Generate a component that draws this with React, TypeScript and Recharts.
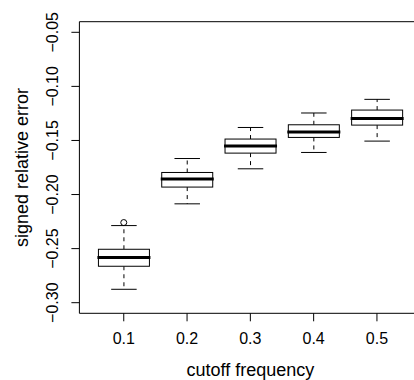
import React from "react";
import {
  ComposedChart,
  Bar,
  Scatter,
  XAxis,
  YAxis,
  Label,
} from "recharts";

const categories = ["0.1", "0.2", "0.3", "0.4", "0.5"];
const lowerWhisker = [-0.2876, -0.2086, -0.1762, -0.1611, -0.1506];
const q1 = [-0.2663, -0.1931, -0.1617, -0.1472, -0.1358];
const median = [-0.2583, -0.1857, -0.1552, -0.1422, -0.1296];
const q3 = [-0.2506, -0.1796, -0.1487, -0.1355, -0.1219];
const upperWhisker = [-0.2287, -0.1667, -0.138, -0.1246, -0.112];
const outliers: (number | null)[] = [-0.2259, null, null, null, null];

const yTicks = [-0.3, -0.25, -0.2, -0.15, -0.1, -0.05];
const yDomain = [-0.3098, -0.0402];

const data = categories.map((cat, i) => ({
  cat,
  lo: lowerWhisker[i],
  q1: q1[i],
  med: median[i],
  q3: q3[i],
  hi: upperWhisker[i],
  range: [lowerWhisker[i], upperWhisker[i]],
  outlier: outliers[i],
}));

const FONT = "'Liberation Sans', Arial, Helvetica, sans-serif";

// box drawn inside the whisker range bar, positions interpolated on the bar's scaled span
const BoxShape = (props: any) => {
  const { x, y, width, height, payload } = props;
  const top = Math.min(y, y + height);
  const bot = Math.max(y, y + height);
  const { lo, hi } = payload;
  const py = (v: number) => top + ((hi - v) / (hi - lo)) * (bot - top);
  const cx = x + width / 2;
  const cap = width / 4;
  const yq1 = py(payload.q1);
  const yq3 = py(payload.q3);
  const ymed = py(payload.med);
  return (
    <g stroke="#000" fill="none">
      <line x1={cx} x2={cx} y1={yq3} y2={top} strokeDasharray="4 4" />
      <line x1={cx} x2={cx} y1={yq1} y2={bot} strokeDasharray="4 4" />
      <line x1={cx - cap} x2={cx + cap} y1={top} y2={top} />
      <line x1={cx - cap} x2={cx + cap} y1={bot} y2={bot} />
      <rect x={x} y={yq3} width={width} height={yq1 - yq3} fill="#fff" />
      <line x1={x - 1} x2={x + width + 1} y1={ymed} y2={ymed} strokeWidth={3} />
    </g>
  );
};

const OutlierShape = (props: any) => {
  if (props.payload == null || props.payload.outlier == null) return null;
  return <circle cx={props.cx} cy={props.cy} r={3} fill="none" stroke="#000" />;
};

const YTick = (props: any) => {
  const { x, y, payload } = props;
  const txt = payload.value.toFixed(2).replace("-", "\u2212");
  return (
    <text
      x={x}
      y={y}
      transform={`rotate(-90, ${x}, ${y})`}
      textAnchor="middle"
      fontSize={16}
      fontFamily={FONT}
      fill="#000"
    >
      {txt}
    </text>
  );
};

export default function App() {
  return (
    <div
      style={{
        position: "absolute",
        left: 0,
        top: 0,
        width: 414,
        height: 380,
        overflow: "hidden",
        background: "#fff",
      }}
    >
      <ComposedChart
        width={430}
        height={380}
        data={data}
        margin={{ top: 19.7, right: 8.7, bottom: 0, left: 0 }}
        barCategoryGap="10%"
      >
        <XAxis
          dataKey="cat"
          height={66.7}
          padding={{ left: 12.7, right: 12.7 }}
          axisLine={{ stroke: "#000" }}
          tickLine={{ stroke: "#000" }}
          tickSize={8}
          tickMargin={11}
          tick={{ fill: "#000", fontSize: 16, fontFamily: FONT }}
        >
          <Label
            value="cutoff frequency"
            position="insideBottom"
            offset={4}
            style={{ fill: "#000", fontSize: 18, fontFamily: FONT }}
          />
        </XAxis>
        {/* top frame line of the plot box */}
        <XAxis
          xAxisId="top"
          dataKey="cat"
          orientation="top"
          height={2}
          padding={{ left: 12.7, right: 12.7 }}
          axisLine={{ stroke: "#000" }}
          tick={false}
          tickLine={false}
        />
        <YAxis
          type="number"
          width={79.4}
          domain={yDomain}
          ticks={yTicks}
          allowDataOverflow
          axisLine={{ stroke: "#000" }}
          tickLine={{ stroke: "#000" }}
          tickSize={8}
          tickMargin={13}
          tick={<YTick />}
          label={{
            content: (p: any) => {
              const vb = p.viewBox;
              const lx = vb.x + 28;
              const ly = vb.y + vb.height / 2;
              return (
                <text
                  x={lx}
                  y={ly}
                  transform={`rotate(-90, ${lx}, ${ly})`}
                  textAnchor="middle"
                  fontSize={18}
                  fontFamily={FONT}
                  fill="#000"
                >
                  signed relative error
                </text>
              );
            },
          }}
        />
        <Bar dataKey="range" shape={<BoxShape />} isAnimationActive={false} />
        <Scatter dataKey="outlier" shape={<OutlierShape />} isAnimationActive={false} />
      </ComposedChart>
    </div>
  );
}
